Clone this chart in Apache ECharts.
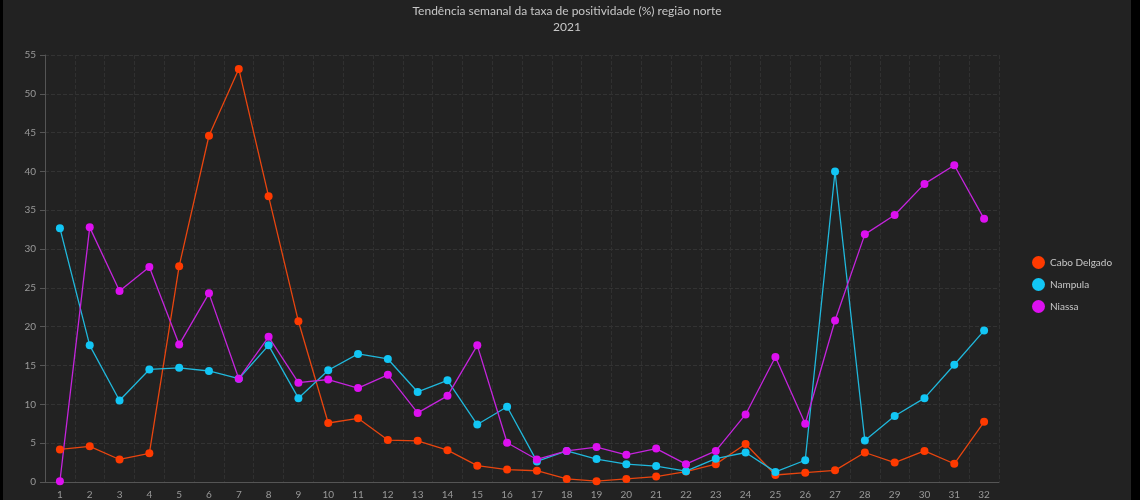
<!DOCTYPE html>
<html>
<head>
<meta charset="utf-8">
<script src="https://cdn.jsdelivr.net/npm/echarts@6/dist/echarts.min.js"></script>
<style>
html,body{margin:0;padding:0;background:#000;width:1140px;height:500px;overflow:hidden;}
#c{position:absolute;left:3px;top:0;width:1128px;height:500px;background:#222222;}
</style>
</head>
<body>
<div id="c"></div>
<script>
const weeks = ["1","2","3","4","5","6","7","8","9","10","11","12","13","14","15","16","17","18","19","20","21","22","23","24","25","26","27","28","29","30","31","32"];
const caboDelgado = [4.2,4.6,2.9,3.7,27.8,44.6,53.2,36.8,20.7,7.6,8.2,5.4,5.3,4.1,2.1,1.6,1.45,0.4,0.1,0.4,0.7,1.35,2.3,4.9,0.9,1.2,1.5,3.8,2.5,4.0,2.35,7.75];
const nampula = [32.7,17.6,10.5,14.5,14.7,14.3,13.3,17.6,10.8,14.4,16.5,15.85,11.6,13.1,7.4,9.7,2.65,4.0,2.95,2.3,2.05,1.4,3.0,3.8,1.3,2.8,40.0,5.35,8.5,10.8,15.1,19.5];
const niassa = [0.1,32.8,24.6,27.7,17.7,24.3,13.3,18.7,12.8,13.2,12.1,13.8,8.9,11.1,17.6,5.05,2.9,4.0,4.5,3.5,4.3,2.3,4.0,8.7,16.1,7.5,20.8,31.9,34.4,38.4,40.8,33.9];
const seriesNames = ["Cabo Delgado","Nampula","Niassa"];
const titleText = "Tendência semanal da taxa de positividade (%) região norte";
const subText = "2021";

const markerColors = ["#ff3a00","#12c6f5","#dd10f0"];
const lineColors = ["#e8450f","#20b8dc","#c424dc"];
const dataSets = [caboDelgado, nampula, niassa];

const chart = echarts.init(document.getElementById('c'), null, {renderer:'canvas'});
chart.setOption({
  backgroundColor:'#222222',
  animation:false,
  textStyle:{fontFamily:'Lato, "Open Sans", sans-serif'},
  title:{
    text:titleText, subtext:subText, left:'center', top:0, itemGap:4,
    textStyle:{color:'#c8c8c8', fontSize:12, fontWeight:'normal', fontFamily:'Lato, sans-serif'},
    subtextStyle:{color:'#c8c8c8', fontSize:12, fontFamily:'Lato, sans-serif'}
  },
  legend:{
    orient:'vertical', left:1024, top:251, itemGap:9,
    icon:'circle', itemWidth:13, itemHeight:13,
    textStyle:{color:'#c8c8c8', fontSize:10},
    data:seriesNames.map((n,i)=>({name:n, itemStyle:{color:markerColors[i]}}))
  },
  grid:{left:42, right:132, top:55, bottom:17, containLabel:false},
  xAxis:{
    type:'category', data:weeks, boundaryGap:true,
    axisLine:{lineStyle:{color:'#555555'}},
    axisTick:{alignWithLabel:true, length:5, lineStyle:{color:'#555555'}},
    axisLabel:{color:'#999999', fontSize:10, margin:8},
    splitLine:{show:true, lineStyle:{color:'#303030', type:'dashed'}}
  },
  yAxis:{
    type:'value', min:0, max:55, interval:5,
    axisLine:{show:true, lineStyle:{color:'#555555'}},
    axisTick:{show:true, length:5, lineStyle:{color:'#555555'}},
    axisLabel:{color:'#999999', fontSize:10, margin:9},
    splitLine:{show:true, lineStyle:{color:'#333333', type:'dashed'}}
  },
  series:dataSets.map((d,i)=>({
    name:seriesNames[i], type:'line', data:d,
    symbol:'circle', symbolSize:8,
    itemStyle:{color:markerColors[i]},
    lineStyle:{color:lineColors[i], width:1.3}
  }))
});
</script>
</body>
</html>
